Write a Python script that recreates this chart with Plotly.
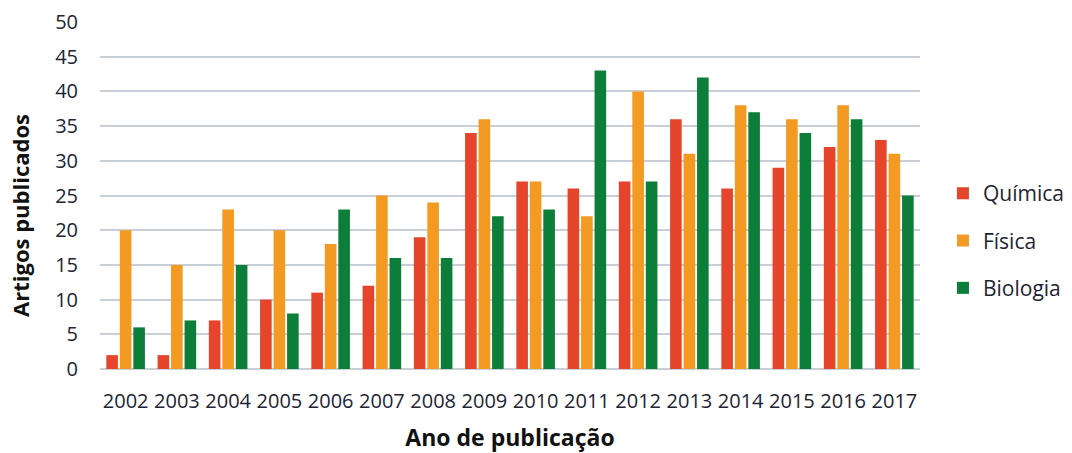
import plotly.graph_objects as go

anos = ["2002","2003","2004","2005","2006","2007","2008","2009","2010","2011","2012","2013","2014","2015","2016","2017"]
quimica = [2, 2, 7, 10, 11, 12, 19, 34, 27, 26, 27, 36, 26, 29, 32, 33]
fisica = [20, 15, 23, 20, 18, 25, 24, 36, 27, 22, 40, 31, 38, 36, 38, 31]
biologia = [6, 7, 15, 8, 23, 16, 16, 22, 23, 43, 27, 42, 37, 34, 36, 25]

series = [("Química", quimica, "#E5452B"), ("Física", fisica, "#F29A22"), ("Biologia", biologia, "#0C7E3A")]

fig = go.Figure()
for i, (name, vals, col) in enumerate(series):
    fig.add_trace(go.Bar(x=anos, y=vals, name=name, marker=dict(color=col, line=dict(width=0)),
                         legendgroup=name))

font_fam = "Open Sans, Liberation Sans, sans-serif"
txt = "#1E2433"
fig.update_layout(
    width=1072, height=453,
    margin=dict(l=100, r=152, t=22, b=84, autoexpand=False),
    paper_bgcolor="white", plot_bgcolor="white",
    barmode="group", bargap=0.21, bargroupgap=0.14,
    font=dict(family=font_fam, color=txt),
    legend=dict(x=1.028, xanchor="left", y=0.37, yanchor="middle",
                font=dict(size=21, color=txt), traceorder="grouped", tracegroupgap=17,
                itemwidth=30),
    xaxis=dict(tickfont=dict(size=20, color=txt), ticks="outside", ticklen=14, tickcolor="rgba(0,0,0,0)",
               showgrid=False, showline=False, automargin=False,
               title=dict(text="<b>Ano de publicação</b>", font=dict(size=23, color="#111"), standoff=17)),
    yaxis=dict(range=[0, 50], dtick=5, tickfont=dict(size=20, color=txt), ticks="outside", ticklen=17,
               tickcolor="rgba(0,0,0,0)", gridcolor="#C9CFD9", gridwidth=2, zeroline=True,
               zerolinecolor="#C9CFD9", zerolinewidth=2, showline=False, automargin=False,
               title=dict(text="<b>Artigos publicados" + "&nbsp;" * 7 + "</b>",
                          font=dict(size=22, color="#111"), standoff=19)),
)
fig.write_html("out.html", post_script="document.body.style.margin='0';",
               config={"displayModeBar": False})
